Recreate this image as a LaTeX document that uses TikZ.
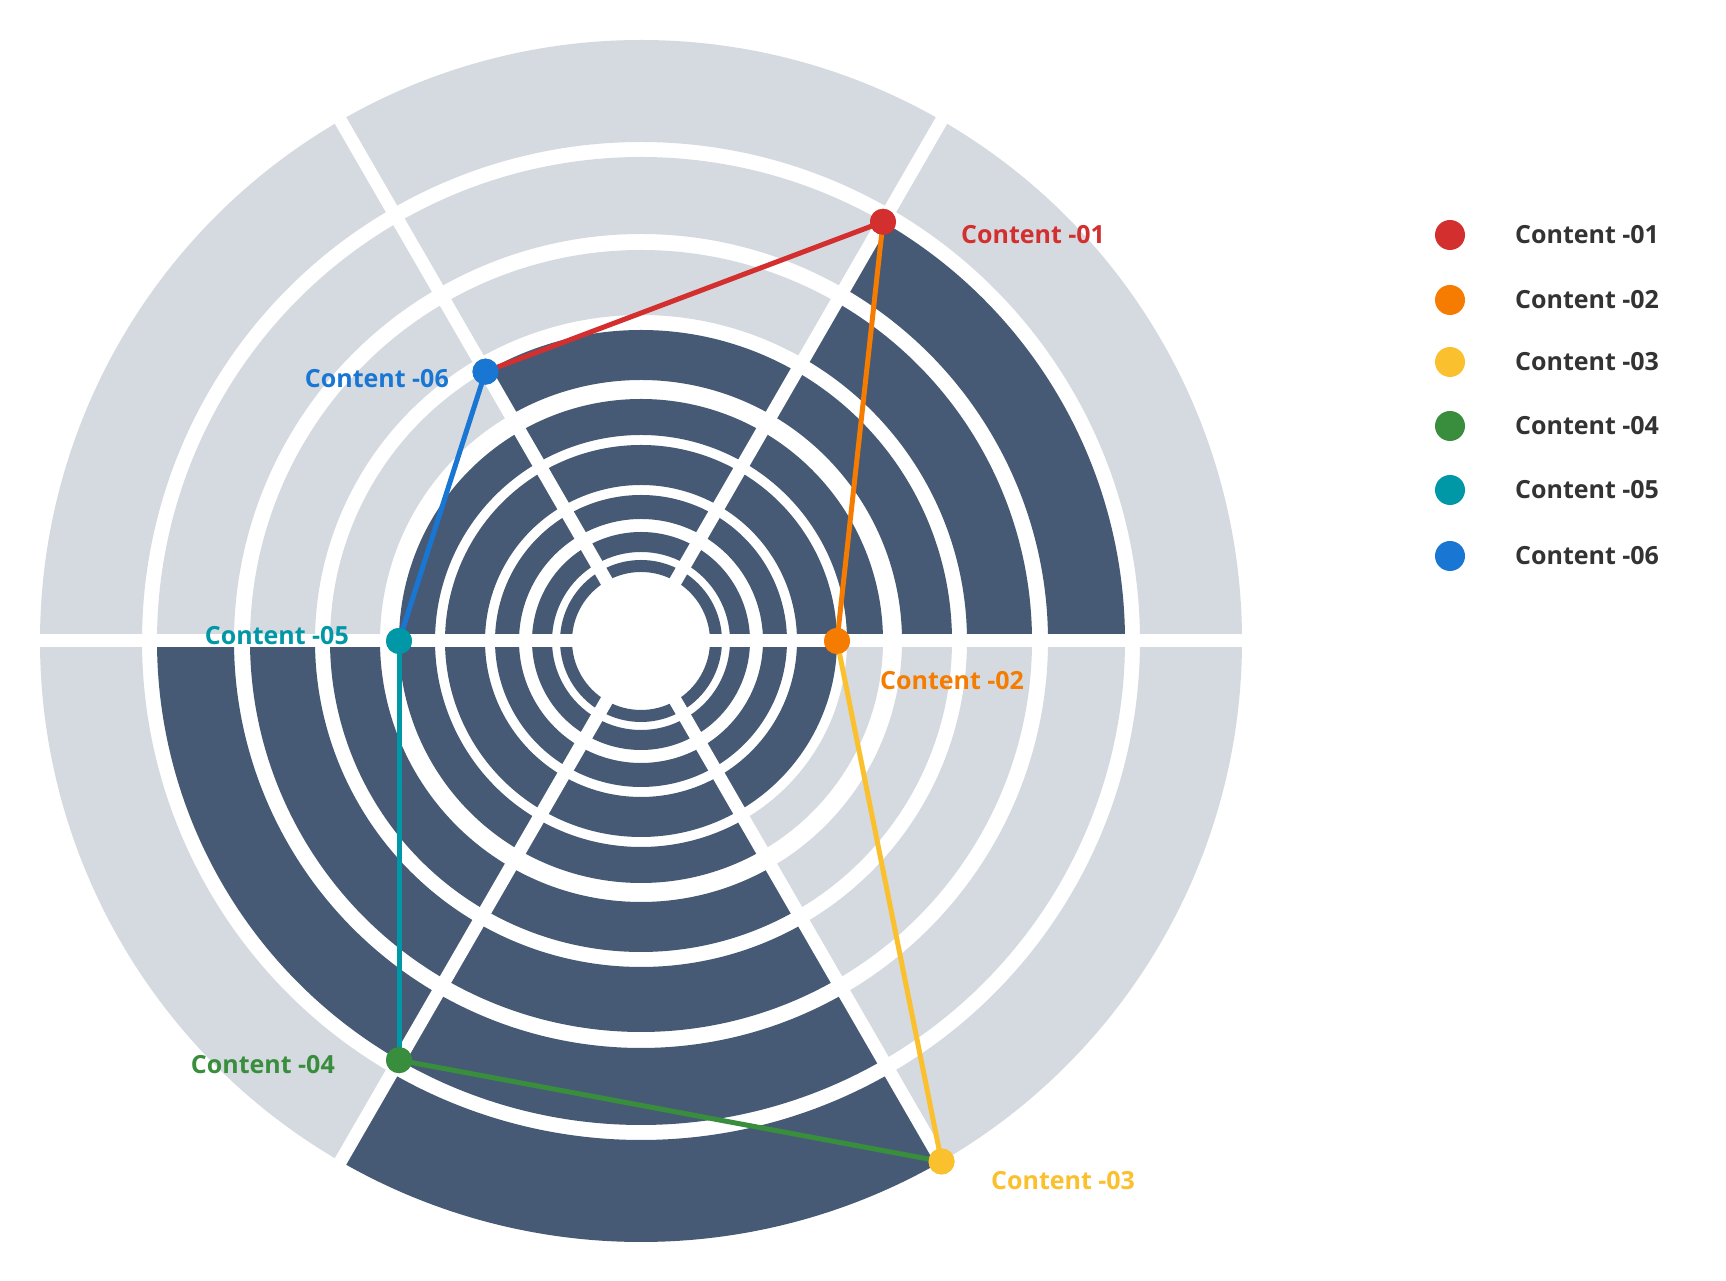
\documentclass[tikz,border=0pt]{standalone}
\usepackage{fontspec}
\setmainfont{Open Sans}
\usetikzlibrary{positioning}
\definecolor{ringdark}{HTML}{465A75}
\definecolor{ringlight}{HTML}{D5DAE0}
\definecolor{cred}{HTML}{D32F2F}
\definecolor{corange}{HTML}{F57C00}
\definecolor{cyellow}{HTML}{FBC02D}
\definecolor{cgreen}{HTML}{388E3C}
\definecolor{cteal}{HTML}{0097A7}
\definecolor{cblue}{HTML}{1976D2}
\tikzset{
  dot/.style={circle,fill=#1,inner sep=0pt,minimum size=26pt},
  legdot/.style={circle,fill=#1,inner sep=0pt,minimum size=30pt},
  lab/.style={font=\fontsize{25}{28}\selectfont\bfseries,text=#1,inner sep=0pt},
  link/.style={line width=5pt,#1},
}
\begin{document}
\begin{tikzpicture}[x=1pt,y=1pt]
\useasboundingbox (0,0) rectangle (1726,1281);
\fill[white] (0,0) rectangle (1726,1281);

\begin{scope}[shift={(641,640)}]
% rings per sector
\foreach \a/\v in {0/484,60/311,120/242,180/484,240/601,300/196}{
  \foreach \ri/\ro in {69/81,89/109,122/146,156/196,206/242,261/311,326/391,407/484,499/601}{
    \ifnum\ro>\v \def\col{ringlight}\else\def\col{ringdark}\fi
    \fill[\col] (\a:\ri) arc[start angle=\a,end angle=\a+60,radius=\ri]
      -- (\a+60:\ro) arc[start angle=\a+60,end angle=\a,radius=\ro] -- cycle;
  }
}
% sector gaps
\foreach \a in {0,60,...,300}
  \draw[white,line width=13pt] (0,0) -- (\a:615);

\node[dot=cred] (p1) at (60:484) {};
\node[dot=corange] (p2) at (0:196) {};
\node[dot=cyellow] (p3) at (-60:601) {};
\node[dot=cgreen] (p4) at (-120:484) {};
\node[dot=cteal] (p5) at (180:242) {};
\node[dot=cblue] (p6) at (120:311) {};
\end{scope}

\begin{scope}[on background layer/.style={}]
\draw[link=corange] (p1.center) -- (p2.center);
\draw[link=cyellow] (p2.center) -- (p3.center);
\draw[link=cgreen] (p3.center) -- (p4.center);
\draw[link=cteal] (p4.center) -- (p5.center);
\draw[link=cblue] (p5.center) -- (p6.center);
\draw[link=cred] (p6.center) -- (p1.center);
\end{scope}
% dots again on top of links
\foreach \n/\c in {p1/cred,p2/corange,p3/cyellow,p4/cgreen,p5/cteal,p6/cblue}
  \node[dot=\c] at (\n) {};

\node[lab=cred,anchor=west] (l1) at (961,1046) {Content -01};
\node[lab=corange,anchor=west] (l2) at (880,600) {Content -02};
\node[lab=cyellow,anchor=west] (l3) at (991,100) {Content -03};
\node[lab=cgreen,anchor=east] (l4) at (335,216) {Content -04};
\node[lab=cteal,anchor=east] (l5) at (349,645) {Content -05};
\node[lab=cblue,anchor=east] (l6) at (449,902) {Content -06};

% legend
\foreach \i/\c/\y in {1/cred/1046,2/corange/981,3/cyellow/919,4/cgreen/855,5/cteal/791,6/cblue/725}{
  \node[legdot=\c] (g\i) at (1450,\y) {};
  \node[lab=black!80,anchor=west] (t\i) at (1515,\y) {Content -0\i};
}
\end{tikzpicture}
\end{document}
